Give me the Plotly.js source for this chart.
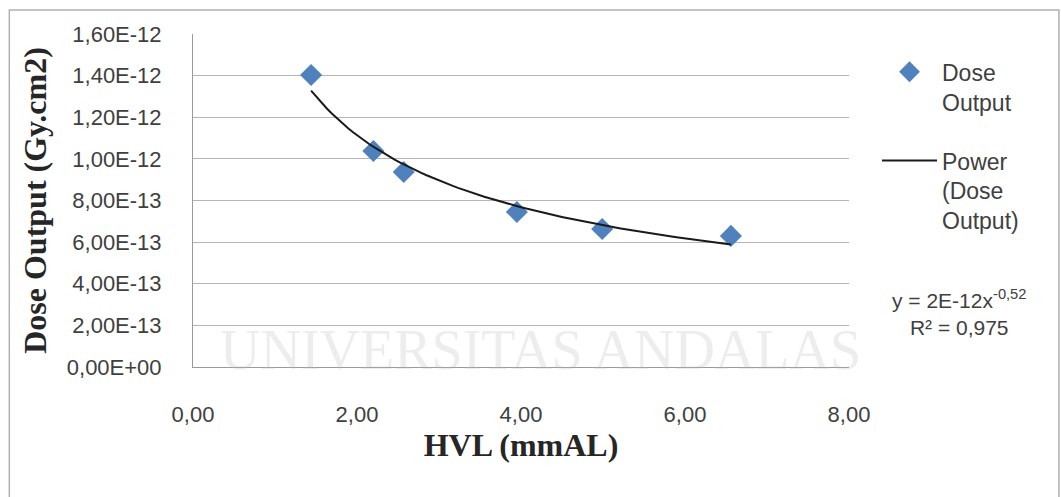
<!DOCTYPE html>
<html>
<head>
<meta charset="utf-8">
<script src="https://cdn.plot.ly/plotly-3.0.1.min.js"></script>
<style>
  html, body { margin: 0; padding: 0; background: #ffffff; }
  #chart { width: 1061px; height: 497px; }
</style>
</head>
<body>
<div id="chart"></div>
<script>
// ---- data ----
const hvl = [1.44, 2.20, 2.57, 3.95, 4.99, 6.56];            // HVL (mmAL)
const doseOutput = [1.403e-12, 1.038e-12, 0.937e-12, 0.745e-12, 0.663e-12, 0.630e-12]; // Gy.cm2

const yTickVals = [0, 2e-13, 4e-13, 6e-13, 8e-13, 1.0e-12, 1.2e-12, 1.4e-12, 1.6e-12];
const yTickText = ["0,00E+00", "2,00E-13", "4,00E-13", "6,00E-13", "8,00E-13",
                   "1,00E-12", "1,20E-12", "1,40E-12", "1,60E-12"];
const xTickVals = [0, 2, 4, 6, 8];
const xTickText = ["0,00", "2,00", "4,00", "6,00", "8,00"];

const seriesName = "Dose<br>Output";
const trendName = "Power<br>(Dose<br>Output)";
const equationText = "y = 2E-12x<sup>-0,52</sup><br>R² = 0,975";

// ---- power trendline (least squares on ln x / ln y, as the spreadsheet does) ----
function powerFit(xs, ys) {
  const lx = xs.map(Math.log), ly = ys.map(Math.log);
  const n = xs.length;
  const mx = lx.reduce((a, b) => a + b, 0) / n;
  const my = ly.reduce((a, b) => a + b, 0) / n;
  let sxy = 0, sxx = 0;
  for (let i = 0; i < n; i++) { sxy += (lx[i] - mx) * (ly[i] - my); sxx += (lx[i] - mx) ** 2; }
  const b = sxy / sxx;
  const a = Math.exp(my - b * mx);
  return { a, b };
}
const fit = powerFit(hvl, doseOutput);
const xMin = Math.min(...hvl), xMax = Math.max(...hvl);
const trendX = [], trendY = [];
for (let i = 0; i <= 80; i++) {
  const x = xMin + (xMax - xMin) * i / 80;
  trendX.push(x);
  trendY.push(fit.a * Math.pow(x, fit.b));
}

const tickFont = { family: "Liberation Sans, Arial, sans-serif", size: 22, color: "#404040" };
const legendFont = { family: "Liberation Sans, Arial, sans-serif", size: 23, color: "#404040" };
const titleFont = { family: "Liberation Serif, Times New Roman, serif", size: 32, color: "#262626", weight: "bold" };

const traces = [
  {
    x: hvl, y: doseOutput, type: "scatter", mode: "markers", name: seriesName,
    legendgroup: "g1",
    marker: { symbol: "diamond", size: 17, color: "#4F81BD", line: { width: 0 } }
  },
  {
    x: trendX, y: trendY, type: "scatter", mode: "lines", name: trendName,
    legendgroup: "g2",
    line: { color: "#1a1a1a", width: 2 }
  }
];

const layout = {
  width: 1061, height: 497,
  margin: { l: 193, r: 212, t: 34, b: 130 },
  paper_bgcolor: "#ffffff",
  plot_bgcolor: "rgba(0,0,0,0)",
  showlegend: true,
  legend: {
    x: 1.0427, xanchor: "left", y: 0.951, yanchor: "top",
    font: legendFont, bgcolor: "rgba(0,0,0,0)", itemwidth: 55,
    valign: "top", traceorder: "grouped", tracegroupgap: 26
  },
  xaxis: {
    range: [0, 8], tickvals: xTickVals, ticktext: xTickText,
    tickfont: tickFont, showgrid: false, zeroline: false,
    showline: true, linecolor: "#9a9a9a", linewidth: 1,
    ticks: "", ticklabelstandoff: 28,
    title: { text: "HVL (mmAL)", font: titleFont, standoff: 2 }
  },
  yaxis: {
    range: [0, 1.6e-12], tickvals: yTickVals, ticktext: yTickText,
    tickfont: tickFont, showgrid: true, gridcolor: "#b5b5b5", gridwidth: 1,
    zeroline: false, showline: true, linecolor: "#9a9a9a", linewidth: 1,
    ticks: "", ticklabelstandoff: 26,
    title: { text: "Dose Output (Gy.cm2)", font: titleFont, standoff: 10 }
  },
  shapes: [
    { type: "rect", xref: "paper", yref: "paper", layer: "below",
      x0: -0.28, x1: 1.32, y0: -0.5, y1: 1.072,
      line: { color: "#b0b0b0", width: 1.5 }, fillcolor: "rgba(0,0,0,0)" }
  ],
  annotations: [
    { text: equationText, xref: "paper", yref: "paper", x: 1.167, y: 0.165,
      xanchor: "center", yanchor: "middle", showarrow: false, align: "center",
      font: { family: "Liberation Sans, Arial, sans-serif", size: 21, color: "#404040" } },
    { text: "UNIVERSITAS ANDALAS", xref: "paper", yref: "paper", x: 0.53, y: 0.05,
      xanchor: "center", yanchor: "middle", showarrow: false,
      font: { family: "Liberation Serif, Times New Roman, serif", size: 56, color: "rgba(185,185,185,0.25)" } }
  ]
};

Plotly.newPlot("chart", traces, layout, { displayModeBar: false, staticPlot: true });
</script>
</body>
</html>
